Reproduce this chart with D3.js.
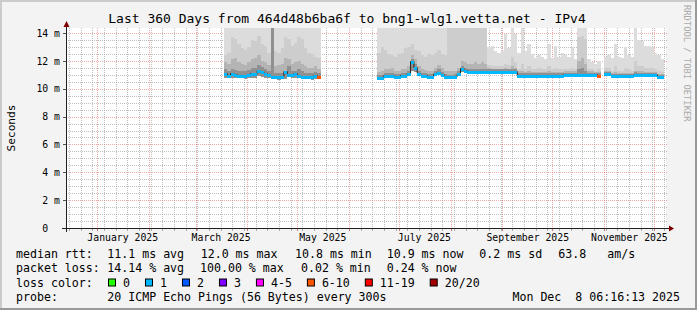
<!DOCTYPE html>
<html>
<head>
<meta charset="utf-8">
<script src="https://cdn.jsdelivr.net/npm/d3@7"></script>
<style>
  html, body { margin: 0; padding: 0; background: #f3f3f3; }
  svg { display: block; opacity: 0.999; }
  text { font-family: "DejaVu Sans Mono", monospace; white-space: pre; fill: #000; }
</style>
</head>
<body>
<svg id="chart"></svg>
<script>
// ---- data ----
const yMax = 14.36;
const startTime = new Date(Date.UTC(2024, 11, 13, 6, 16, 13));
const endTime = new Date(Date.UTC(2025, 11, 8, 6, 16, 13));
const stepDays = 2;

const yTicks = [0, 2, 4, 6, 8, 10, 12, 14];
const xLabelMonths = ["2025-01-01", "2025-03-01", "2025-05-01", "2025-07-01", "2025-09-01", "2025-11-01"];

const lossLabels = ["0", "1", "2", "3", "4-5", "6-10", "11-19", "20/20"];
const lossUpper = [0, 1, 2, 3, 5, 10, 19, 20];
const lossColors = ["#26ff00", "#00b8ff", "#0059ff", "#7e00ff", "#ff00ff", "#ff5500", "#ff0000", "#a10000"];
const smokeColors = ["#dcdcdc", "#cdcdcd", "#b4b4b4", "#909090"];

// first block of measurements (2-day steps)
const seg1Start = "2025-03-18";
const seg1Median = [11.1, 11.0, 11.1, 11.05, 11.0, 11.0, 11.0, 11.05, 11.15, 11.15,
  11.35, 11.25, 11.1, 11.05, 10.9, 10.9, 10.9, 10.9, 11.3, 11.05,
  11.05, 11.15, 11.0, 10.9, 10.9, 10.9, 10.9, 10.95, 10.9];
const seg1Loss = [1, 1, 1, 1, 1, 1, 1, 1, 1, 1, 1, 1, 1, 1, 1, 1, 1, 1, 1, 1, 1, 1, 1, 1, 1, 1, 1, 1, 8];
const seg1Low = [10.8, 10.75, 10.8, 10.75, 10.75, 10.75, 10.7, 10.75, 10.8, 10.8,
  10.9, 10.85, 10.8, 10.75, 10.7, 10.7, 10.65, 10.7, 10.7, 10.9,
  10.75, 10.75, 10.8, 10.7, 10.7, 10.7, 10.65, 10.7, 10.7];
const seg1Outer = [16, 16, 16, 16, 16, 16, 16, 16, 16, 16, 16, 16, 16, 16, 16,
  16, 16, 16, 16, 16, 16, 16, 16, 16, 16, 16, 16, 16, 16];
const seg1Mid = [12.4, 12.6, 13.7, 13.6, 13.2, 12.9, 12.8, 13.0, 13.5, 13.4,
  13.8, 13.2, 13.1, 12.6, 16, 12.7, 12.6, 12.9, 13.7, 13.6,
  13.1, 13.3, 13.7, 13.6, 12.9, 12.6, 12.5, 12.3, 12.2];
const seg1Inner = [11.9, 11.8, 12.1, 12.2, 11.9, 11.8, 11.7, 11.9, 12.1, 12.2,
  12.4, 12.0, 11.9, 11.7, 16, 11.6, 11.7, 11.8, 12.2, 12.1,
  11.8, 11.9, 12.0, 11.8, 11.6, 11.5, 11.5, 11.6, 11.4];
const seg1Core = [11.4, 11.3, 11.4, 11.35, 11.3, 11.3, 11.3, 11.35, 11.5, 11.5,
  11.7, 11.55, 11.4, 11.3, 16, 11.15, 11.15, 11.15, 11.15, 11.6,
  11.3, 11.3, 11.4, 11.25, 11.15, 11.15, 11.1, 11.2, 11.1];

// second block of measurements (2-day steps)
const seg2Start = "2025-06-18";
const seg2Median = [10.85, 10.85, 10.95, 10.95, 11.0, 10.9, 10.9, 10.95, 10.95, 11.1,
  12.0, 11.55, 11.1, 11.0, 10.95, 10.9, 10.9, 11.15, 11.22, 11.05,
  10.9, 10.88, 10.88, 10.9, 11.1, 11.5, 11.35, 11.28, 11.28, 11.28,
  11.28, 11.28, 11.28, 11.28, 11.28, 11.28, 11.28, 11.28, 11.28, 11.28,
  11.28, 11.28, 11.0, 11.02, 11.02, 11.0, 11.02, 11.02, 11.0, 11.02,
  11.02, 11.0, 11.02, 11.02, 11.0, 11.02, 11.05, 11.05, 11.05, 11.05,
  11.05, 11.05, 11.05, 11.05, 11.05, 11.05, 11.0, null, 11.12, 11.1,
  10.95, 10.95, 10.95, 10.95, 10.95, 10.95, 10.95, 11.05, 11.05, 11.05,
  11.05, 11.05, 11.05, 11.05, 10.88, 10.88];
const seg2Loss = [1, 1, 1, 1, 1, 1, 1, 1, 1, 1,
  1, 1, 1, 1, 1, 1, 1, 1, 1, 1,
  1, 1, 1, 1, 1, 1, 1, 1, 1, 1,
  1, 1, 1, 1, 1, 1, 1, 1, 1, 1,
  1, 1, 1, 1, 1, 1, 1, 1, 1, 1,
  1, 1, 1, 1, 1, 1, 1, 1, 1, 1,
  1, 1, 1, 1, 1, 1, 8, null, 1, 1,
  1, 1, 1, 1, 1, 1, 1, 1, 1, 1,
  1, 1, 1, 1, 1, 1];
const seg2Low = [10.7, 10.7, 10.8, 10.8, 10.85, 10.75, 10.75, 10.8, 10.8, 10.95,
  11.3, 11.2, 10.95, 10.85, 10.8, 10.75, 10.75, 10.95, 11.05, 10.9,
  10.75, 10.75, 10.75, 10.75, 10.95, 11.2, 11.15, 11.1, 11.1, 11.1,
  11.1, 11.1, 11.1, 11.1, 11.1, 11.1, 11.1, 11.1, 11.1, 11.1,
  11.1, 11.1, 10.85, 10.85, 10.85, 10.85, 10.85, 10.85, 10.85, 10.85,
  10.85, 10.85, 10.85, 10.85, 10.85, 10.85, 10.85, 10.85, 10.85, 10.85,
  10.85, 10.85, 10.85, 10.85, 10.85, 10.85, 10.85, null, 10.95, 10.95,
  10.8, 10.8, 10.8, 10.8, 10.8, 10.8, 10.8, 10.9, 10.9, 10.9,
  10.9, 10.9, 10.9, 10.9, 10.72, 10.72];
const seg2Outer = [16, 16, 16, 16, 16, 16, 16, 16, 16, 16,
  16, 16, 16, 16, 16, 16, 16, 16, 16, 16,
  16, 16, 16, 16, 16, 16, 16, 16, 16, 16,
  16, 16, 16, 13.0, 13.1, 12.7, 12.6, 12.7, 13.9, 12.9,
  16, 13.9, 12.6, 16, 12.7, 13.2, 12.5, 12.2, 12.4, 12.3,
  12.1, 13.2, 12.2, 13.1, 12.3, 12.6, 12.4, 12.3, 13.0, 12.1,
  16, 16, 16, 12.1, 11.9, 11.8, 12.0, null, 12.3, 12.4,
  12.2, 13.2, 12.3, 12.2, 13.0, 12.4, 12.3, 16, 13.5, 13.4,
  13.1, 13.1, 13.0, 12.6, 12.4, 12.1];
const seg2Mid = [12.6, 13.0, 12.8, 12.5, 12.4, 12.3, 12.5, 12.6, 12.9, 13.0,
  13.2, 12.8, 12.7, 12.4, 12.3, 12.5, 12.4, 12.6, 12.8, 12.5,
  12.4, 16, 16, 16, 16, 16, 16, 16, 16, 16,
  16, 16, 16, 11.7, 11.6, 11.6, 11.6, 11.6, 11.8, 11.7,
  12.3, 11.9, 11.4, 11.8, 11.4, 11.6, 11.4, 11.4, 11.5, 11.4,
  11.4, 11.6, 11.4, 11.5, 11.4, 11.4, 11.4, 11.4, 11.5, 11.4,
  13.7, 13.8, 13.6, 11.4, 11.4, 11.3, 11.4, null, 11.5, 11.5,
  11.3, 11.6, 11.3, 11.3, 11.5, 11.4, 11.3, 12.0, 11.6, 11.6,
  11.5, 11.5, 11.5, 11.4, 11.3, 11.2];
const seg2Inner = [11.2, 11.3, 11.4, 11.4, 11.5, 11.3, 11.3, 11.4, 11.4, 11.6,
  12.4, 12.1, 11.6, 11.4, 11.35, 11.3, 11.3, 11.5, 11.7, 11.5,
  11.3, 11.3, 11.3, 11.3, 11.5, 12.0, 11.9, 11.8, 11.8, 11.9,
  11.8, 11.9, 11.8, 11.5, 11.45, 11.45, 11.45, 11.45, 11.5, 11.45,
  11.6, 11.5, 11.25, 11.25, 11.2, 11.25, 11.2, 11.2, 11.2, 11.2,
  11.2, 11.25, 11.2, 11.2, 11.2, 11.2, 11.25, 11.25, 11.25, 11.25,
  12.0, 12.2, 11.8, 11.25, 11.25, 11.2, 11.2, null, 11.3, 11.3,
  11.1, 11.2, 11.1, 11.1, 11.15, 11.1, 11.1, 11.3, 11.25, 11.25,
  11.2, 11.2, 11.2, 11.2, 11.05, 11.05];
const seg2Core = [11.0, 11.0, 11.1, 11.1, 11.15, 11.05, 11.05, 11.1, 11.1, 11.25,
  12.15, 11.75, 11.25, 11.15, 11.1, 11.05, 11.05, 11.3, 11.4, 11.2,
  11.05, 11.0, 11.0, 11.05, 11.25, 11.65, 11.5, 11.4, 11.4, 11.4,
  11.4, 11.4, 11.4, 11.4, 11.4, 11.4, 11.4, 11.4, 11.4, 11.4,
  11.4, 11.4, 11.1, 11.12, 11.1, 11.12, 11.1, 11.1, 11.12, 11.1,
  11.1, 11.12, 11.1, 11.1, 11.12, 11.1, 11.15, 11.15, 11.15, 11.15,
  11.4, 11.5, 11.3, 11.15, 11.15, 11.12, 11.1, null, 11.22, 11.2,
  11.05, 11.08, 11.05, 11.05, 11.08, 11.05, 11.05, 11.2, 11.15, 11.15,
  11.15, 11.15, 11.15, 11.15, 11.0, 11.0];

// legend texts
const titleText = "Last 360 Days from 464d48b6ba6f to bng1-wlg1.vetta.net - IPv4";
const rttItems = ["11.1 ms avg", "12.0 ms max", "10.8 ms min", "10.9 ms now", "0.2 ms sd", "63.8", "am/s"];
const lossItems = ["14.14 % avg", "100.00 % max", "0.02 % min", "0.24 % now"];
const probeText = "20 ICMP Echo Pings (56 Bytes) every 300s";
const dateText = "Mon Dec  8 06:16:13 2025";

// ---- layout ----
const W = 697, H = 310;
const plot = { left: 66, right: 666, top: 28, bottom: 228 };
const rttX = [107.3, 200.7, 295, 386.7, 479.3, 558.3, 607.3];
const lossX = [107.3, 200, 301, 386.7];
const rowY = [258.3, 272.3, 286.5, 300.5];

const svg = d3.select("#chart").attr("width", W).attr("height", H);

// canvas with shaded frame
svg.append("rect").attr("width", W).attr("height", H).attr("fill", "#f3f3f3");
svg.append("rect").attr("width", W).attr("height", 2).attr("fill", "#cbcbcb");
svg.append("rect").attr("width", 2).attr("height", H).attr("fill", "#cbcbcb");
svg.append("rect").attr("x", W - 2).attr("width", 2).attr("height", H).attr("fill", "#999");
svg.append("rect").attr("y", H - 2).attr("width", W).attr("height", 2).attr("fill", "#999");

svg.append("rect")
  .attr("x", plot.left).attr("y", plot.top)
  .attr("width", plot.right - plot.left).attr("height", plot.bottom - plot.top)
  .attr("fill", "#fff");

// Scales
const x = d3.scaleUtc().domain([startTime, endTime]).range([plot.left, plot.right]);
const y = d3.scaleLinear().domain([0, yMax]).range([plot.bottom, plot.top]);

// Grid
const minorGrid = "rgba(150,150,150,0.6)";
const majorGrid = "rgba(230,90,90,0.5)";
const grid = svg.append("g").attr("shape-rendering", "crispEdges");

const weeks = d3.utcSunday.range(startTime, endTime);
const months = d3.utcMonth.range(startTime, endTime);
const monthKeys = new Set(months.map(d => +d));
const px = v => Math.round(v) + 0.5;

grid.selectAll(".vminor").data(weeks.filter(d => !monthKeys.has(+d)))
  .join("line")
  .attr("x1", d => px(x(d))).attr("x2", d => px(x(d)))
  .attr("y1", plot.top).attr("y2", plot.bottom)
  .attr("stroke", minorGrid).attr("stroke-dasharray", "1,1");

const hMinor = d3.range(0.5, yMax, 0.5).filter(v => v % 2 !== 0);
grid.selectAll(".hminor").data(hMinor)
  .join("line")
  .attr("x1", plot.left).attr("x2", plot.right + 2)
  .attr("y1", d => px(y(d))).attr("y2", d => px(y(d)))
  .attr("stroke", minorGrid).attr("stroke-dasharray", "1,1");

grid.selectAll(".vmajor").data(months)
  .join("line")
  .attr("x1", d => px(x(d))).attr("x2", d => px(x(d)))
  .attr("y1", plot.top).attr("y2", plot.bottom)
  .attr("stroke", majorGrid).attr("stroke-dasharray", "1,1");

grid.selectAll(".hmajor").data(yTicks.filter(v => v > 0))
  .join("line")
  .attr("x1", plot.left).attr("x2", plot.right + 2)
  .attr("y1", d => px(y(d))).attr("y2", d => px(y(d)))
  .attr("stroke", majorGrid).attr("stroke-dasharray", "1,1");

// small axis ticks
const ticks = svg.append("g").attr("shape-rendering", "crispEdges");
ticks.selectAll(".tw").data(weeks.filter(d => !monthKeys.has(+d)))
  .join("line")
  .attr("x1", d => px(x(d))).attr("x2", d => px(x(d)))
  .attr("y1", plot.bottom).attr("y2", plot.bottom + 3)
  .attr("stroke", "rgba(120,120,120,0.6)");
ticks.selectAll(".tm").data(months)
  .join("line")
  .attr("x1", d => px(x(d))).attr("x2", d => px(x(d)))
  .attr("y1", plot.bottom).attr("y2", plot.bottom + 3)
  .attr("stroke", "rgba(200,60,60,0.7)");
ticks.selectAll(".ty").data(yTicks.filter(v => v > 0))
  .join("line")
  .attr("x1", plot.left - 3).attr("x2", plot.left)
  .attr("y1", d => px(y(d))).attr("y2", d => px(y(d)))
  .attr("stroke", "#555");

// build segments
function buildSegment(start, median, loss, low, outer, mid, inner, core) {
  const t0 = new Date(start + "T00:00:00Z");
  return median.map((m, i) => ({
    t0: d3.utcDay.offset(t0, i * stepDays),
    t1: d3.utcDay.offset(t0, (i + 1) * stepDays),
    median: m, loss: loss[i], low: low[i],
    outer: outer[i], mid: mid[i], inner: inner[i], core: core[i]
  }));
}
const segments = [
  buildSegment(seg1Start, seg1Median, seg1Loss, seg1Low, seg1Outer, seg1Mid, seg1Inner, seg1Core),
  buildSegment(seg2Start, seg2Median, seg2Loss, seg2Low, seg2Outer, seg2Mid, seg2Inner, seg2Core)
];
const allPoints = segments.flat();

svg.append("clipPath").attr("id", "plotclip")
  .append("rect")
  .attr("x", plot.left).attr("y", plot.top)
  .attr("width", plot.right - plot.left).attr("height", plot.bottom - plot.top);

const dataG = svg.append("g").attr("clip-path", "url(#plotclip)");

// Smoke bands, outer (light) to core (dark)
["outer", "mid", "inner", "core"].forEach((key, k) => {
  dataG.append("g").attr("shape-rendering", "crispEdges")
    .selectAll("rect")
    .data(allPoints.filter(d => d[key] != null && d.low != null))
    .join("rect")
    .attr("x", d => Math.round(x(d.t0)))
    .attr("width", d => Math.round(x(d.t1)) - Math.round(x(d.t0)))
    .attr("y", d => Math.round(y(d[key])))
    .attr("height", d => Math.round(y(d.low)) - Math.round(y(d[key])))
    .attr("fill", smokeColors[k]);
});

// Median line (dark, shows at the steps)
const medLine = d3.line()
  .defined(d => d.m != null)
  .x(d => x(d.t))
  .y(d => Math.round(y(d.m)) + 0.5)
  .curve(d3.curveStepAfter);

segments.forEach(seg => {
  const pts = seg.map(d => ({ t: d.t0, m: d.median }));
  const last = seg[seg.length - 1];
  pts.push({ t: last.t1, m: last.median });
  dataG.append("path")
    .datum(pts)
    .attr("d", medLine)
    .attr("fill", "none")
    .attr("stroke", "#202020")
    .attr("stroke-width", 1);
});

// Median coloured by loss
const lossIndex = v => lossUpper.findIndex(u => v <= u);
dataG.append("g").attr("shape-rendering", "crispEdges")
  .selectAll("rect")
  .data(allPoints.filter(d => d.median != null))
  .join("rect")
  .attr("x", d => Math.round(x(d.t0)))
  .attr("width", d => Math.round(x(d.t1)) - Math.round(x(d.t0)))
  .attr("y", d => Math.round(y(d.median)))
  .attr("height", 3)
  .attr("fill", d => lossColors[lossIndex(d.loss)]);

// Axes
const axisColor = "#202020";
const arrowColor = "#7f0000";
svg.append("line")
  .attr("x1", plot.left - 4).attr("x2", plot.right + 4)
  .attr("y1", plot.bottom + 0.5).attr("y2", plot.bottom + 0.5)
  .attr("stroke", axisColor);
svg.append("line")
  .attr("x1", plot.left + 0.5).attr("x2", plot.left + 0.5)
  .attr("y1", plot.bottom + 4).attr("y2", plot.top - 4)
  .attr("stroke", axisColor);
svg.append("path")
  .attr("d", `M${plot.right + 3},${plot.bottom - 2.5} L${plot.right + 8},${plot.bottom + 0.5} L${plot.right + 3},${plot.bottom + 3.5} Z`)
  .attr("fill", arrowColor);
svg.append("path")
  .attr("d", `M${plot.left - 2.5},${plot.top - 1} L${plot.left + 0.5},${plot.top - 7} L${plot.left + 3.5},${plot.top - 1} Z`)
  .attr("fill", arrowColor);

// Y axis labels
const yAxis = svg.append("g")
  .attr("transform", `translate(${plot.left},0)`)
  .call(d3.axisLeft(y).tickValues(yTicks).tickSize(0).tickPadding(6)
    .tickFormat(v => v === 0 ? "0  " : `${v} m`));
yAxis.select(".domain").remove();
yAxis.selectAll("text").attr("font-size", "9.8px").attr("font-family", "DejaVu Sans Mono").attr("fill", "#000");

// X axis labels (centred in the month)
const labelDates = xLabelMonths.map(s => d3.utcDay.offset(new Date(s + "T00:00:00Z"), 15));
const xAxis = svg.append("g")
  .attr("transform", `translate(0,${plot.bottom})`)
  .call(d3.axisBottom(x).tickValues(labelDates).tickSize(0).tickPadding(6.5)
    .tickFormat(d3.utcFormat("%B %Y")));
xAxis.select(".domain").remove();
xAxis.selectAll("text").attr("font-size", "9.8px").attr("font-family", "DejaVu Sans Mono").attr("fill", "#000");

// Titles
svg.append("text")
  .attr("x", 347).attr("y", 23)
  .attr("text-anchor", "middle")
  .attr("font-size", "13px")
  .text(titleText);

svg.append("text")
  .attr("transform", `translate(15,${(plot.top + plot.bottom) / 2}) rotate(-90)`)
  .attr("text-anchor", "middle")
  .attr("font-size", "11.2px")
  .text("Seconds");

svg.append("text")
  .attr("transform", "translate(684,5) rotate(90)")
  .attr("font-size", "8.8px")
  .style("fill", "#aaa")
  .text("RRDTOOL / TOBI OETIKER");

// Legend
const lg = svg.append("g").attr("font-size", "11.6px");
lg.append("text").attr("x", 16).attr("y", rowY[0]).text("median rtt:");
rttItems.forEach((t, i) => lg.append("text").attr("x", rttX[i]).attr("y", rowY[0]).text(t));

lg.append("text").attr("x", 16).attr("y", rowY[1]).text("packet loss:");
lossItems.forEach((t, i) => lg.append("text").attr("x", lossX[i]).attr("y", rowY[1]).text(t));

lg.append("text").attr("x", 16).attr("y", rowY[2]).text("loss color:");
let cx = 108;
lossLabels.forEach((lab, i) => {
  lg.append("rect")
    .attr("x", cx + 0.5).attr("y", rowY[2] - 7.5)
    .attr("width", 7).attr("height", 7)
    .attr("fill", lossColors[i]).attr("stroke", "#000").attr("stroke-width", 1);
  const t = lg.append("text").attr("x", cx + 15).attr("y", rowY[2]).text(lab);
  cx = cx + 15 + t.node().getComputedTextLength() + 15;
});

lg.append("text").attr("x", 16).attr("y", rowY[3]).text("probe:");
lg.append("text").attr("x", 107.3).attr("y", rowY[3]).text(probeText);
lg.append("text").attr("x", 680).attr("y", rowY[3]).attr("text-anchor", "end").text(dateText);
</script>
</body>
</html>
